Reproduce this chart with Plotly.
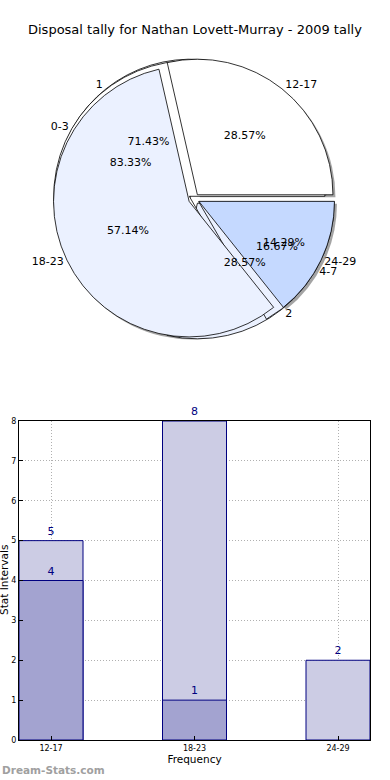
import plotly.graph_objects as go

# ---------------- data ----------------
title_text = "Disposal tally for Nathan Lovett-Murray - 2009 tally"

pie_main_labels = ["12-17", "18-23", "24-29"]
pie_main_values = [2, 4, 1]

pie_b_labels = ["1", "2"]
pie_b_values = [5, 2]

pie_c_labels = ["0-3", "4-7"]
pie_c_values = [5, 1]

bar_categories = ["12-17", "18-23", "24-29"]
bar_back_values = [5, 8, 2]
bar_front_values = [4, 1, None]

y_ticks = [0, 1, 2, 3, 4, 5, 6, 7, 8]

# ---------------- style ----------------
W, H = 390, 780
FONT = "DejaVu Sans"
pie_colors = ["#FFFFFF", "#EBF1FF", "#C5D9FF"]
PULL = 0.04


def px_x(p):
    return p / W


def px_y(p):
    return 1 - p / H


def start_rot(vals):
    # plotly counterclockwise pies: first slice spans [rotation, rotation + its angle]
    # (clockwise from 12 o'clock); make the first slice begin at 3 o'clock like matplotlib
    return 90 - 360.0 * vals[0] / sum(vals)


# pie domain (circle centred around (194,199) px)
cx, cy, half = 194, 199, 141
pie_dom = dict(x=[px_x(cx - half), px_x(cx + half)], y=[px_y(cy + half), px_y(cy - half)])
sh = 2.5
shadow_dom = dict(x=[px_x(cx - half + sh), px_x(cx + half + sh)],
                  y=[px_y(cy + half + sh), px_y(cy - half + sh)])

common = dict(sort=False, direction="counterclockwise",
              hoverinfo="skip", showlegend=False)

fig = go.Figure()

# shadow
fig.add_trace(go.Pie(labels=pie_main_labels, values=pie_main_values, domain=shadow_dom,
                     rotation=start_rot(pie_main_values),
                     pull=[PULL] * 3, textinfo="none",
                     marker=dict(colors=["rgba(90,90,90,0.55)"] * 3, line=dict(width=0)),
                     **common))

# underlying pies (slices only)
for labs, vals in [(pie_b_labels, pie_b_values), (pie_c_labels, pie_c_values)]:
    fig.add_trace(go.Pie(labels=labs, values=vals, domain=pie_dom, pull=[PULL] * len(vals),
                         rotation=start_rot(vals), textinfo="none",
                         marker=dict(colors=pie_colors[:len(vals)], line=dict(color="black", width=0.8)),
                         **common))

# main pie slices
fig.add_trace(go.Pie(labels=pie_main_labels, values=pie_main_values, domain=pie_dom,
                     rotation=start_rot(pie_main_values),
                     pull=[PULL] * 3, textinfo="none",
                     marker=dict(colors=pie_colors, line=dict(color="black", width=0.8)),
                     **common))

# text layers (transparent pies on top)
for labs, vals in [(pie_main_labels, pie_main_values), (pie_b_labels, pie_b_values),
                   (pie_c_labels, pie_c_values)]:
    n = len(vals)
    fig.add_trace(go.Pie(labels=labs, values=vals, domain=pie_dom, pull=[PULL] * n,
                         rotation=start_rot(vals),
                         texttemplate="%{percent:.2%}", textposition="inside",
                         insidetextorientation="horizontal",
                         textfont=dict(family=FONT, size=11, color="black"),
                         marker=dict(colors=["rgba(0,0,0,0)"] * n, line=dict(width=0)),
                         **common))
    fig.add_trace(go.Pie(labels=labs, values=vals, domain=pie_dom, pull=[PULL] * n,
                         rotation=start_rot(vals),
                         texttemplate="%{label}", textposition="outside",
                         textfont=dict(family=FONT, size=11, color="black"),
                         marker=dict(colors=["rgba(0,0,0,0)"] * n, line=dict(width=0)),
                         **common))

# ---------------- bars ----------------
navy = "#000080"
fig.add_trace(go.Bar(x=bar_categories, y=bar_back_values, width=0.446,
                     marker=dict(color="#CCCCE4", line=dict(color=navy, width=1)),
                     text=[str(v) for v in bar_back_values], textposition="outside",
                     textfont=dict(family=FONT, size=11, color=navy), cliponaxis=False,
                     showlegend=False, hoverinfo="skip"))
fig.add_trace(go.Bar(x=bar_categories, y=bar_front_values, width=0.446,
                     marker=dict(color="#A3A3D0", line=dict(color=navy, width=1)),
                     text=[("" if v is None else str(v)) for v in bar_front_values],
                     textposition="outside",
                     textfont=dict(family=FONT, size=11, color=navy), cliponaxis=False,
                     showlegend=False, hoverinfo="skip"))

grid_style = dict(showgrid=True, gridcolor="#b0b0b0", griddash="1px,2px", gridwidth=1)

fig.update_layout(
    width=W, height=H, margin=dict(l=0, r=0, t=0, b=0, autoexpand=False),
    paper_bgcolor="white", plot_bgcolor="white",
    barmode="overlay",
    font=dict(family=FONT, color="black"),
    xaxis=dict(domain=[px_x(19), px_x(370)], range=[-0.223, 2.223], type="category",
               automargin=False,
               showline=True, mirror=True, linecolor="black", linewidth=1,
               ticks="inside", ticklen=4, tickcolor="black",
               tickfont=dict(family=FONT, size=8, color="black"),
               title=dict(text="Frequency", font=dict(family=FONT, size=10.5), standoff=2),
               **grid_style),
    yaxis=dict(domain=[px_y(740), px_y(421)], range=[0, 8], tickvals=y_ticks,
               automargin=False,
               showline=True, mirror=True, linecolor="black", linewidth=1,
               ticks="inside", ticklen=4, tickcolor="black",
               zeroline=False,
               tickfont=dict(family=FONT, size=8, color="black"),
               **grid_style),
    annotations=[
        dict(text=title_text, x=0.5, y=px_y(30), xref="paper", yref="paper",
             showarrow=False, xanchor="center", yanchor="middle",
             font=dict(family=FONT, size=13, color="black")),
        dict(text="Stat Intervals", textangle=-90, x=px_x(4), y=px_y(580),
             xref="paper", yref="paper", showarrow=False, xanchor="center", yanchor="middle",
             font=dict(family=FONT, size=10.5, color="black")),
        dict(text="<b>Dream-Stats.com</b>", x=0, y=px_y(770), xref="paper", yref="paper",
             showarrow=False, xanchor="left", yanchor="middle",
             font=dict(family=FONT, size=10.5, color="#a0a0a0")),
    ],
)

fig.write_html("out.html", config={"displayModeBar": False},
               post_script="document.body.style.margin='0px';")
